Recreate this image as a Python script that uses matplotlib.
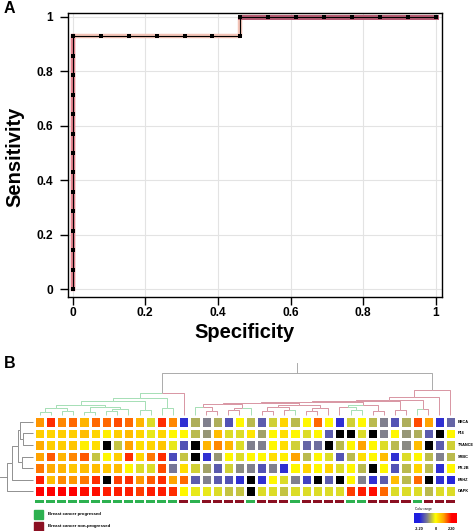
import numpy as np
import matplotlib
matplotlib.use("Agg")
import matplotlib.pyplot as plt
from matplotlib.colors import LinearSegmentedColormap, Normalize
from matplotlib.patches import Rectangle
import matplotlib.transforms as mtrans

plt.rcParams['font.family'] = ['Liberation Sans', 'DejaVu Sans']

# ---------------- Panel A data (ROC) ----------------
roc_spec = [0.000, 0.000, 0.000, 0.000, 0.000, 0.000, 0.000, 0.000, 0.000, 0.000,
            0.000, 0.000, 0.000, 0.000, 0.077, 0.154, 0.231, 0.308, 0.385, 0.462,
            0.462, 0.538, 0.615, 0.692, 0.769, 0.846, 0.923, 1.000]
roc_sens = [0.000, 0.071, 0.143, 0.214, 0.286, 0.357, 0.429, 0.500, 0.571, 0.643,
            0.714, 0.786, 0.857, 0.929, 0.929, 0.929, 0.929, 0.929, 0.929, 0.929,
            1.000, 1.000, 1.000, 1.000, 1.000, 1.000, 1.000, 1.000]
roc_ticks = [0, 0.2, 0.4, 0.6, 0.8, 1]
roc_ticklabels = ["0", "0.2", "0.4", "0.6", "0.8", "1"]

# ---------------- Panel B data (heatmap) ----------------
genes = ["BRCA", "P16", "TRANCE", "SRBC", "PR-2B", "BSHZ", "OAPK"]
nan = np.nan
row_brca = [1.2, 1.9, 1.3, 1.5, 0.9, 1.5, 1.5, 1.7, 1.5, 0.9, -0.3, 1.9, 1.3,
            -2.0, -0.7, -1.1, -0.7, -1.6, 0.1, -0.6, -1.5, -0.4, 0.5, -0.6, 0.1, 1.5,
            0.1, -2.0, -0.4, 0.1, -0.6, -1.1, -1.6, -0.7, 1.7, 1.1, -2.0, -1.4]
row_p16 = [0.6, 0.5, 0.6, 0.6, 0.8, 0.5, 0.2, 0.6, 0.8, 0.5, -0.2, 0.5, 0.1,
           0.1, -0.6, -0.9, 0.8, -0.3, -0.3, 0.3, -0.8, 0.1, 0.4, 0.1, -0.3, 0.1,
           -1.5, nan, nan, -0.3, nan, -1.1, 0.1, -0.9, -0.7, -1.5, nan, 0.1]
row_trance = [1.0, 0.6, 0.6, 0.7, 0.2, 0.4, nan, -0.5, 1.1, 0.4, 0.5, 0.7, -0.2,
              -1.6, nan, 0.9, 1.3, 0.9, -0.3, -1.1, -1.1, 0.1, 0.4, -0.4, -1.4, -1.3,
              nan, -0.6, 0.1, 1.1, 0.1, -0.3, -0.6, -1.0, 0.8, nan, -1.5, -0.4]
row_srbc = [1.1, 1.6, 0.9, 1.3, 1.6, -0.5, 0.1, 0.6, 1.9, 0.5, 1.4, 1.9, -1.7,
            -0.5, nan, -2.0, -0.9, 0.1, -0.3, 0.1, 0.1, 0.4, 0.2, 1.1, -0.6, 0.1,
            -0.3, -1.6, -0.6, 0.4, 0.1, 0.8, -2.0, -0.3, 0.1, -0.6, -1.1, -0.6]
row_pr2b = [1.4, 1.0, 0.9, 0.7, 0.8, 0.8, 0.7, 0.8, 0.1, -0.3, -0.3, 1.7, -1.2,
            0.4, -0.4, -0.8, -1.5, -0.4, -1.0, -1.1, -1.6, -1.1, -2.0, 0.1, 0.5, 0.1,
            0.5, -0.3, 0.1, -0.6, nan, 0.1, -1.6, -0.6, 0.5, -0.6, -2.0, 0.1]
row_bshz = [2.0, 0.8, 1.3, 1.2, 1.4, 1.9, nan, 1.8, 1.9, 1.2, 1.6, 1.9, 1.1,
            1.5, -1.5, -1.1, -1.5, -1.6, -2.0, nan, -2.0, 0.1, -0.3, -1.1, -1.8, nan,
            -1.5, nan, 0.1, -1.1, -2.0, -1.5, 0.8, -0.6, 1.5, nan, -2.0, -2.1]
row_oapk = [2.2, 2.2, 2.2, 2.2, 2.1, 2.1, 2.0, 2.0, 2.0, 1.8, 2.0, 2.0, 1.9,
            0.1, -0.2, -0.2, -0.3, -0.5, -0.5, nan, -0.3, -0.3, -0.5, -0.3, -0.3, -0.3,
            -0.3, -0.3, 1.8, 2.0, 2.1, 1.5, -0.3, -0.3, -0.3, -0.6, -0.3, -0.3]
col_group = ["P"] * 13 + ["N", "P", "N", "N", "N", "N", "P", "N", "N", "N", "P",
                          "N", "N", "N", "N", "P", "P", "N", "N", "N", "N", "P",
                          "N", "N", "N"]
group_names = {"P": "Breast cancer progressed", "N": "Breast cancer non-progressed"}
cbar_ticks = [-2.2, 0, 2.2]
cbar_labels = ["-2.20", "0", "2.20"]

# column tree: [left, right, merge height]; leaves are column indices
G2 = [[[0, 1, 4], [2, 3, 5], 8], [[4, 5, 4], [[6, 7, 5], 8, 7], 9], 11]
G = [[G2, [9, 10, 6], 15], [11, 12, 8], 18]
L = [G, 13, 23.3]
R5 = [[[14, [15, 16, 5], 9], [[17, 18, 6], 19, 8], 12],
      [[[20, 21, 5], [22, 23, 6], 9], [[24, 25, 5], 26, 8], 11], 13]
R6 = [[27, [28, 29, 6], 9], [30, 31, 5], 11]
R4 = [R5, R6, 14]
R3 = [R4, [32, 33, 6], 15]
R2 = [R3, [34, 35, 7], 16.5]
R1 = [R2, 36, 19]
R = [R1, 37, 26]
col_tree = [L, R, 43]
col_root_stub = 53
# row tree
row_tree = [[[[0, [1, 2, 11], 14], [3, 4, 12], 16], 5, 22], 6, 27]
row_root_stub = 34

# ---------------- figure ----------------
W, H = 473, 531
fig = plt.figure(figsize=(W / 100, H / 100), dpi=100)


def ax_px(l, t, r, b):
    return fig.add_axes([l / W, 1 - b / H, (r - l) / W, (b - t) / H])


# ---- Panel A ----
ax = ax_px(68.3, 13.3, 441.7, 297)
ax.set_xlim(-0.0121, 1.0165)
ax.set_ylim(-0.0294, 1.0136)
ax.grid(True, color='#e3e3e3', lw=0.8)
ax.set_axisbelow(True)
spec = np.array(roc_spec)
sens = np.array(roc_sens)
ax.plot(spec, sens, color='#f3c3b6', lw=3.2, solid_capstyle='butt', zorder=2)
m_v = spec <= 0.0
ax.plot(spec[m_v], sens[m_v], color='#e4848f', lw=3.2, zorder=2)
m_t = sens >= 1.0
ax.plot(spec[m_t], sens[m_t], color='#b65b73', lw=3.6, zorder=2)
ax.plot(spec, sens, color='black', lw=0.8, marker='s', ms=2.8, mew=0, zorder=3)
ax.set_xticks(roc_ticks)
ax.set_xticklabels(roc_ticklabels)
ax.set_yticks(roc_ticks)
ax.set_yticklabels(roc_ticklabels)
ax.tick_params(axis='both', direction='out', length=5.5, width=1.0, labelsize=8.6)
ax.tick_params(axis='y', pad=5.5)
ax.tick_params(axis='x', pad=2)
for lab in ax.get_xticklabels() + ax.get_yticklabels():
    lab.set_fontweight('bold')
for s in ax.spines.values():
    s.set_linewidth(1.0)
ax.set_xlabel("Specificity", fontsize=14.5, fontweight='bold')
ax.set_ylabel("Sensitivity", fontsize=14.5, fontweight='bold')
ax.xaxis.set_label_coords((245 - 68.3) / 373.4, (297 - 332) / 283.7)
ax.xaxis.label.set_va('center')
ax.yaxis.set_label_coords((15 - 68.3) / 373.4, (297 - 157) / 283.7)
ax.yaxis.label.set_va('center')

# ---- Panel B heatmap ----
data = np.array([row_brca, row_p16, row_trance, row_srbc, row_pr2b, row_bshz, row_oapk])
cmap = LinearSegmentedColormap.from_list(
    'hm', [(0.0, '#1e1ee0'), (0.25, '#80808f'), (0.5, '#ffff00'),
           (0.75, '#ffa500'), (1.0, '#ff0000')])
cmap.set_bad('black')
norm = Normalize(-2.2, 2.2)
ncol = data.shape[1]
nrow = data.shape[0]

hm = ax_px(34, 416, 456, 497)
hm.pcolormesh(data, cmap=cmap, norm=norm, edgecolors='white', linewidth=0.9)
hm.set_xlim(0, ncol)
hm.set_ylim(nrow, 0)
hm.axis('off')
for i, g in enumerate(genes):
    hm.text(ncol + 0.2, i + 0.5, g, fontsize=2.8, fontweight='bold', va='center', ha='left')

# class bar
gcol = {"P": '#2db150', "N": '#8b1022'}
cb = ax_px(34, 499.5, 456, 502.5)
cb.bar(np.arange(ncol) + 0.5, 1, width=0.82, color=[gcol[g] for g in col_group])
cb.set_xlim(0, ncol)
cb.set_ylim(0, 1)
cb.axis('off')


# ---- dendrograms ----
def leaves_of(node):
    if isinstance(node, int):
        return [node]
    return leaves_of(node[0]) + leaves_of(node[1])


def pos_of(node):
    if isinstance(node, int):
        return node + 0.5, 0.8
    a, _ = pos_of(node[0])
    b, _ = pos_of(node[1])
    return (a + b) / 2, node[2]


def color_of(node):
    lv = leaves_of(node)
    frac = np.mean([col_group[i] == "P" for i in lv])
    return '#9edcb0' if frac > 0.5 else '#d68e9c'


def draw_top(axd, node, is_root=False):
    if isinstance(node, int):
        return
    x, h = pos_of(node)
    for ch in node[:2]:
        cx, chh = pos_of(ch)
        c = '#a5a5a5' if is_root else color_of(ch)
        axd.plot([cx, cx, x], [chh, h, h], color=c, lw=0.65, solid_capstyle='butt')
        draw_top(axd, ch)


td = ax_px(34, 345, 456, 416)
td.set_xlim(0, ncol)
td.set_ylim(0, 71)
td.axis('off')
draw_top(td, col_tree, is_root=True)
rx, rh = pos_of(col_tree)
td.plot([rx, rx], [rh, col_root_stub], color='#a5a5a5', lw=0.65)


def draw_left(axd, node):
    if isinstance(node, int):
        return
    y, h = pos_of(node)
    for ch in node[:2]:
        cy, chh = pos_of(ch)
        axd.plot([chh, h, h], [cy, cy, y], color='#888888', lw=0.65, solid_capstyle='butt')
        draw_left(axd, ch)


ld = ax_px(0, 416, 34, 497)
ld.set_xlim(34, 0)
ld.set_ylim(nrow, 0)
ld.axis('off')
draw_left(ld, row_tree)
ry, rrh = pos_of(row_tree)
ld.plot([rrh, row_root_stub], [ry, ry], color='#888888', lw=0.65)

# ---- overlay: panel labels, legend ----
ov = fig.add_axes([0, 0, 1, 1], zorder=-1)
ov.set_xlim(0, W)
ov.set_ylim(H, 0)
ov.axis('off')
ov.text(4, 8.5, "A", fontsize=11.5, fontweight='bold', va='center', ha='left')
ov.text(4, 363, "B", fontsize=11.5, fontweight='bold', va='center', ha='left')
for k, (g, yy) in enumerate([("P", 510), ("N", 521.5)]):
    ov.add_patch(Rectangle((34, yy), 8.5, 9, color=gcol[g]))
    ov.text(48, yy + 4.5, group_names[g], fontsize=3.2, fontweight='bold', va='center', ha='left')

# ---- colour key ----
cax = ax_px(414, 512.7, 457, 523.3)
grad = np.linspace(-2.9, 2.9, 256)[None, :]
cax.imshow(grad, extent=[-2.9, 2.9, 0, 1], aspect='auto', cmap=cmap, norm=norm)
cax.set_xlim(-2.9, 2.9)
cax.set_ylim(0, 1)
cax.axis('off')
trans = mtrans.blended_transform_factory(cax.transData, cax.transAxes)
for v, lab in zip(cbar_ticks, cbar_labels):
    cax.text(v, -0.55, lab, transform=trans, fontsize=2.8, fontweight='bold', ha='center', va='center')
cax.text(-2.8, 1.2, "Color range", transform=trans, fontsize=2.3, ha='left', va='bottom')

fig.savefig("out.png", dpi=100)
